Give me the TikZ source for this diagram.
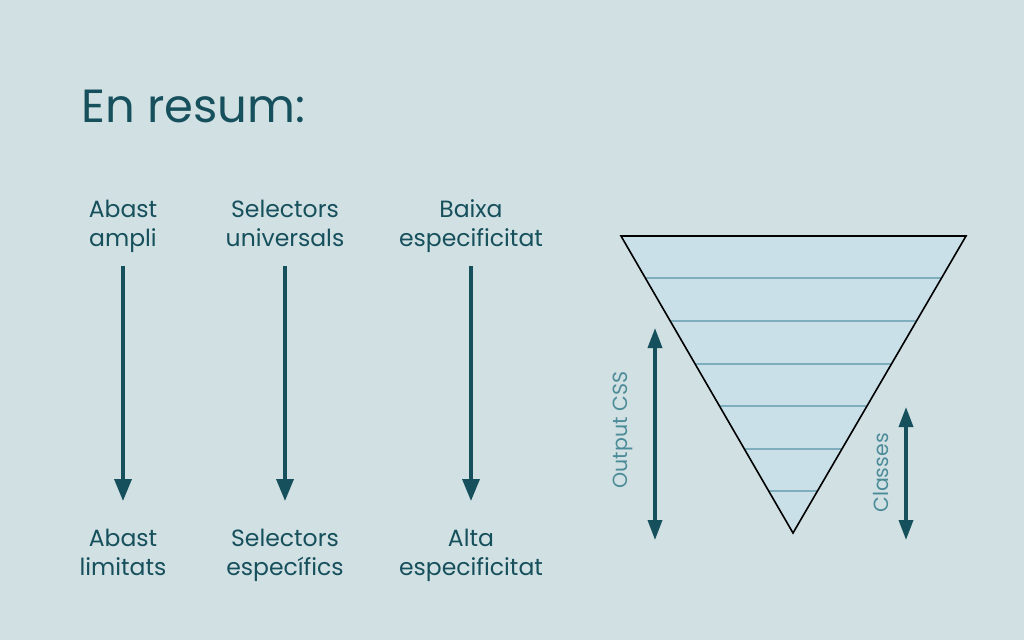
\documentclass[tikz,border=0pt]{standalone}
\usepackage{fontspec}
\setmainfont{Poppins}
\usetikzlibrary{arrows.meta,calc}
\definecolor{bg}{HTML}{D1E0E3}
\definecolor{ink}{HTML}{16505C}
\definecolor{soft}{HTML}{4C8C99}
\definecolor{funfill}{HTML}{C9E0E8}
\definecolor{funline}{HTML}{7EAEBD}
\tikzset{
  lbl/.style={text=ink, font=\fontsize{23.5}{29}\selectfont, align=center, inner sep=0pt, anchor=base},
  vlbl/.style={text=soft, font=\fontsize{20.5}{22}\selectfont, rotate=90, inner sep=0pt},
  downarrow/.style={draw=ink, line width=3.5pt, -{Triangle[width=17pt,length=22pt]}},
  bothway/.style={draw=ink, line width=3.5pt, {Triangle[width=14pt,length=20pt]}-{Triangle[width=14pt,length=20pt]}},
  layer/.style={draw=funline, line width=1.3pt}
}
\begin{document}
\begin{tikzpicture}[x=1pt,y=-1pt]
\fill[bg] (0,0) rectangle (1024,640);
\useasboundingbox (0,0) rectangle (1024,640);
\node[anchor=base west, text=ink, font=\fontsize{46.5}{50}\selectfont, inner sep=0pt] (title) at (81,122) {En resum:};
% top labels
\node[lbl] (t1) at (123,246) {Abast\\ampli};
\node[lbl] (t2) at (285,246) {Selectors\\universals};
\node[lbl] (t3) at (471,246) {Baixa\\especificitat};
\node[lbl] (b1) at (123,575) {Abast\\limitats};
\node[lbl] (b2) at (285,575) {Selectors\\específics};
\node[lbl] (b3) at (471,575) {Alta\\especificitat};
\coordinate (a1s) at (123,266); \coordinate (a1e) at (123,501);
\coordinate (a2s) at (285,266); \coordinate (a2e) at (285,501);
\coordinate (a3s) at (471,266); \coordinate (a3e) at (471,501);
\draw[downarrow] (a1s) -- (a1e);
\draw[downarrow] (a2s) -- (a2e);
\draw[downarrow] (a3s) -- (a3e);
% funnel
\coordinate (tl) at (621,236);
\coordinate (tr) at (966,236);
\coordinate (bt) at (793,533);
\fill[funfill] (tl) -- (tr) -- (bt) -- cycle;
\foreach \y in {278,321,364,406,449,491}{
  \pgfmathsetmacro{\f}{(\y-236)/297}
  \draw[layer] ($(tl)!\f!(bt)$) -- ($(tr)!\f!(bt)$);
}
\draw[black, line width=1.6pt, line join=miter] (tl) -- (tr) -- (bt) -- cycle;
% side arrows
\coordinate (o1) at (655,328); \coordinate (o2) at (655,540);
\draw[bothway] (o1) -- (o2);
\node[vlbl] (out) at (623,430) {Output CSS};
\coordinate (c1) at (906,407); \coordinate (c2) at (906,540);
\draw[bothway] (c1) -- (c2);
\node[vlbl] (cls) at (881,473) {Classes};
\end{tikzpicture}
\end{document}
